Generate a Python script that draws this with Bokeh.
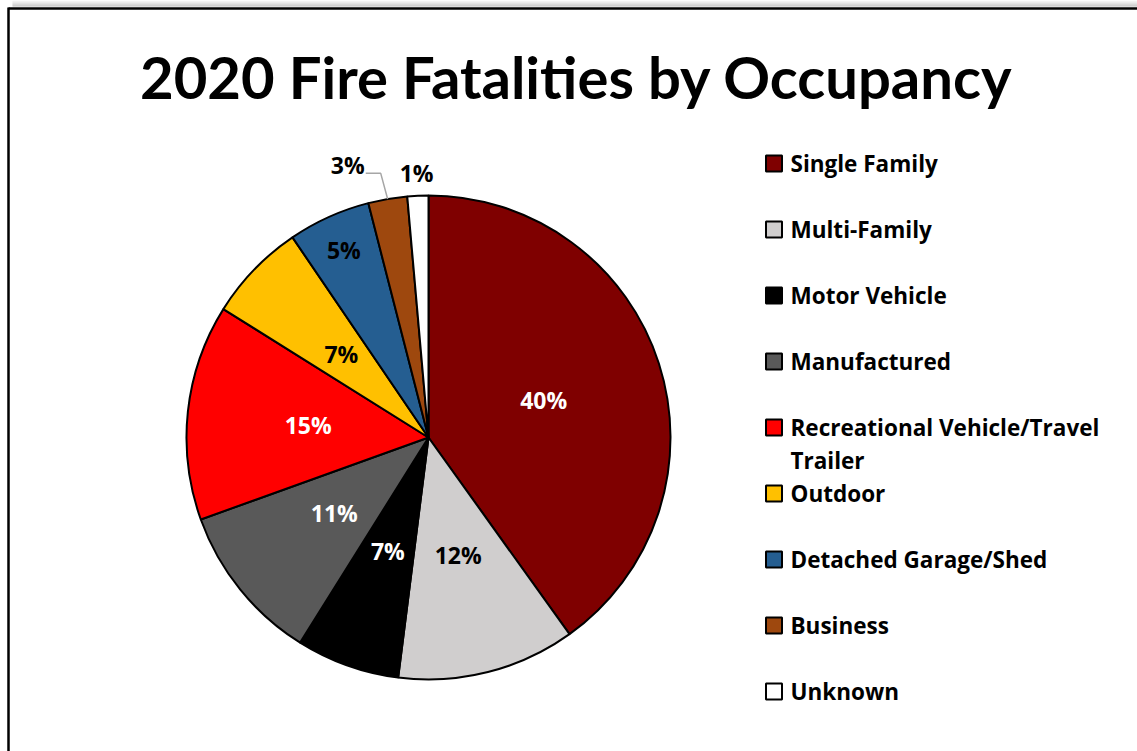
import numpy as np
from bokeh.plotting import figure
from bokeh.models import Range1d, ColumnDataSource
from bokeh.core.properties import value
from bokeh.embed import file_html
from bokeh.resources import INLINE

# ---------------- data ----------------
title = "2020 Fire Fatalities by Occupancy"
categories = ["Single Family", "Multi-Family", "Motor Vehicle", "Manufactured",
              "Recreational Vehicle/Travel Trailer", "Outdoor",
              "Detached Garage/Shed", "Business", "Unknown"]
legend_lines = [["Single Family"], ["Multi-Family"], ["Motor Vehicle"], ["Manufactured"],
                ["Recreational Vehicle/Travel", "Trailer"], ["Outdoor"],
                ["Detached Garage/Shed"], ["Business"], ["Unknown"]]
shares = [40.1, 11.9, 6.9, 10.6, 14.4, 6.6, 5.5, 2.6, 1.4]
pct_labels = ["40%", "12%", "7%", "11%", "15%", "7%", "5%", "3%", "1%"]
colors = ["#7f0000", "#d0cece", "#000000", "#595959", "#ff0000",
          "#ffc000", "#255e91", "#9e480e", "#ffffff"]
label_colors = ["white", "black", "white", "white", "white",
                "black", "black", "black", "black"]

TITLE_FONT = "Lato"
FONT = "Open Sans"
W, H = 1137, 751


def py(y):  # page y -> data y
    return H - y


p = figure(width=W, height=H, output_backend="svg", toolbar_location=None,
           x_range=Range1d(0, W), y_range=Range1d(0, H),
           x_axis_type=None, y_axis_type=None, min_border=0)
p.outline_line_color = None
p.grid.visible = False
p.background_fill_color = "white"
p.border_fill_color = "white"

# shadow above the frame
shade = ["#f4f4f4", "#ebebeb", "#e0e0e0", "#d4d4d4", "#c8c8c8", "#bcbcbc"]
for k, c in enumerate(shade):
    p.line([12, W], [py(0.5 + k), py(0.5 + k)], line_color=c, line_width=1)

# frame (top & left visible)
p.line([8, W], [py(8), py(8)], line_color="black", line_width=2.5)
p.line([8, 8], [py(7), py(H)], line_color="black", line_width=2.5)

# title
p.text(x=[576], y=[py(76)], text=[title], text_font=value(TITLE_FONT),
       text_font_style="bold", text_font_size="58px", text_align="center",
       text_baseline="alphabetic", text_color="black")

# pie
cx, cy, R = 428, py(437), 242
vals = np.array(shares, dtype=float)
frac = vals / vals.sum()
cum = np.concatenate([[0], np.cumsum(frac)])
start = np.pi / 2 - cum[:-1] * 2 * np.pi
end = np.pi / 2 - cum[1:] * 2 * np.pi
mid = (start + end) / 2

src = ColumnDataSource(dict(start=start, end=end, color=colors))
p.wedge(x=cx, y=cy, radius=R, start_angle="start", end_angle="end",
        direction="clock", fill_color="color", line_color="black",
        line_width=2, source=src)

# data labels
lx, ly = [], []
for i, m in enumerate(mid):
    if frac[i] > 0.06:
        lx.append(cx + 0.5 * R * np.cos(m))
        ly.append(cy + 0.5 * R * np.sin(m))
    elif frac[i] > 0.04:
        lx.append(cx + 0.85 * R * np.cos(m))
        ly.append(cy + 0.85 * R * np.sin(m))
    else:
        r_out = 1.12 * R
        x0 = cx + r_out * np.cos(m)
        y0 = cy + r_out * np.sin(m)
        if i == len(mid) - 2:  # 3% label shifted left with leader line
            x0 -= 35
            y0 += 5
            ex, ey = cx + R * np.cos(m), cy + R * np.sin(m)
            p.line([x0 + 18, x0 + 33, ex], [y0 - 8, y0 - 8, ey],
                   line_color="#a6a6a6", line_width=1.5)
        else:
            y0 -= 6
        lx.append(x0)
        ly.append(y0)

p.text(x=lx, y=ly, text=pct_labels, text_color=label_colors,
       text_font=value(FONT), text_font_style="bold", text_font_size="23px",
       text_align="center", text_baseline="middle")

# legend
row0, step = 163, 66
sq_x, txt_x, sq = 773.5, 790, 16
for i, lines in enumerate(legend_lines):
    yc = row0 + step * i
    p.rect(x=[sq_x], y=[py(yc)], width=sq, height=sq, fill_color=colors[i],
           line_color="black", line_width=2)
    for j, t in enumerate(lines):
        p.text(x=[txt_x], y=[py(yc + 33 * j)], text=[t], text_font=value(FONT),
               text_font_style="bold", text_font_size="22.5px", text_align="left",
               text_baseline="middle", text_color="black")

open("out.html", "w").write(file_html(p, INLINE))
